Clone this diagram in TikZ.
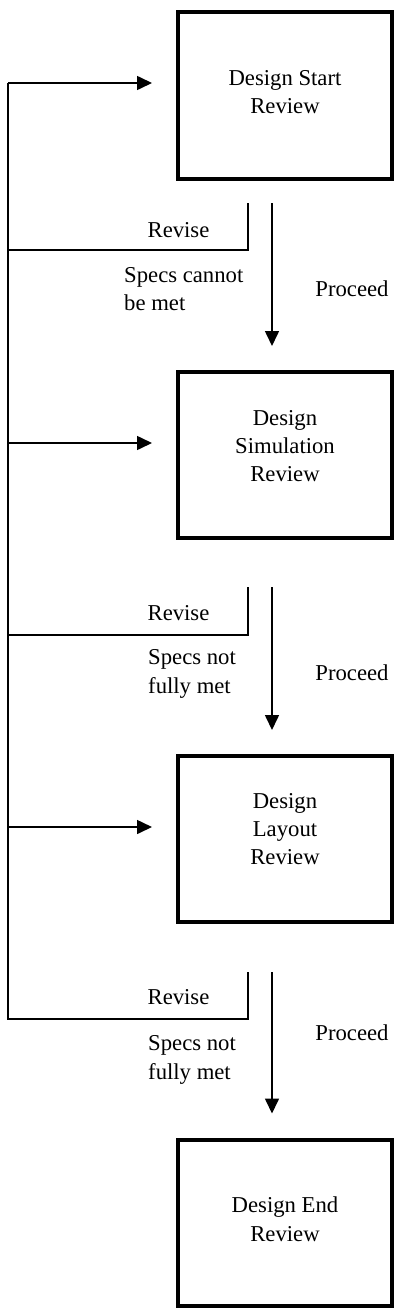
\documentclass[tikz,border=0pt]{standalone}
\usepackage{fontspec}
\setmainfont{Liberation Serif}
\usetikzlibrary{arrows.meta}
\begin{document}
\begin{tikzpicture}[x=1pt,y=-1pt,
  txt/.style={font=\fontsize{22.7}{28.4}\selectfont},
  lbl/.style={txt, inner sep=0pt, align=left},
  review/.style={txt, draw, line width=4pt, minimum width=214pt, minimum height=166pt, align=center, inner sep=0pt},
  conn/.style={line width=1.6pt},
  arr/.style={conn, -{Triangle[length=15pt,width=14pt]}}]
\useasboundingbox (0,0) rectangle (402,1314);

\node[review, text depth=7pt] (b1) at (285,95.5) {Design Start\\Review};
\node[review, text depth=18pt] (b2) at (285,455) {Design\\Simulation\\Review};
\node[review, text depth=20pt] (b3) at (285,839) {Design\\Layout\\Review};
\node[review, text depth=7pt] (b4) at (285,1222.5) {Design End\\Review};

\coordinate (r1) at (248,203); \coordinate (p1) at (272,203);
\coordinate (r2) at (248,587); \coordinate (p2) at (272,587);
\coordinate (r3) at (248,972); \coordinate (p3) at (272,972);
\coordinate (j1) at (8,250); \coordinate (j2) at (8,635); \coordinate (j3) at (8,1019);
\coordinate (a1) at (8,83); \coordinate (a2) at (8,443); \coordinate (a3) at (8,827);

% proceed arrows
\draw[arr, shorten >=24pt] (p1) -- (p1 |- b2.north);
\draw[arr, shorten >=24pt] (p2) -- (p2 |- b3.north);
\draw[arr, shorten >=24pt] (p3) -- (p3 |- b4.north);

% revise feedback
\draw[conn] (r1) |- (j1);
\draw[conn] (r2) |- (j2);
\draw[conn] (r3) |- (j3) -- (a1);
\draw[arr, shorten >=24pt] (a1) -- (a1 -| b1.west);
\draw[arr, shorten >=24pt] (a2) -- (a2 -| b2.west);
\draw[arr, shorten >=24pt] (a3) -- (a3 -| b3.west);

% labels
\node[lbl, anchor=base] (rv1) at (178.5,237) {Revise};
\node[lbl, anchor=base] (rv2) at (178.5,620.7) {Revise};
\node[lbl, anchor=base] (rv3) at (178.5,1004) {Revise};
\node[lbl, anchor=base west] (s1) at (124,310.7) {Specs cannot\\be met};
\node[lbl, anchor=base west] (s2) at (148,693) {Specs not\\fully met};
\node[lbl, anchor=base west] (s3) at (148,1079.3) {Specs not\\fully met};
\node[lbl, anchor=base] (pr1) at (352,296.7) {Proceed};
\node[lbl, anchor=base] (pr2) at (352,680.7) {Proceed};
\node[lbl, anchor=base] (pr3) at (352,1040) {Proceed};
\end{tikzpicture}
\end{document}
